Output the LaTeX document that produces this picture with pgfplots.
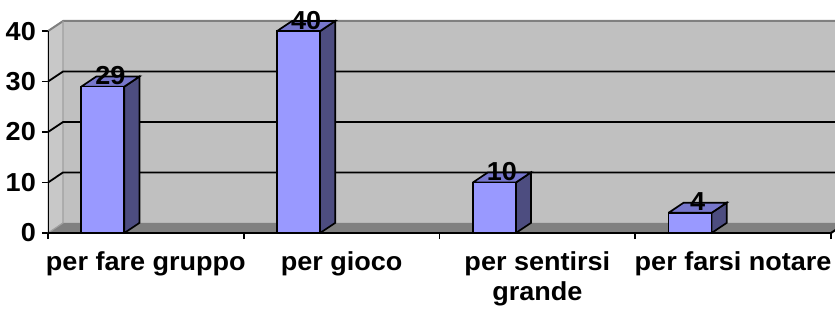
\documentclass[border=0pt]{standalone}
\usepackage{fontspec}
\setmainfont{Liberation Sans}[FakeStretch=1.04]
\usepackage{pgfplots}
\usepackage{pgfplotstable}
\pgfplotsset{compat=1.18}
\definecolor{wall}{RGB}{192,192,192}
\definecolor{sidewall}{RGB}{200,200,200}
\definecolor{floorc}{RGB}{128,128,128}
\definecolor{edgegray}{RGB}{128,128,128}
\definecolor{barfront}{RGB}{153,153,255}
\definecolor{barside}{RGB}{77,77,128}
\definecolor{bartop}{RGB}{119,119,204}
\pgfplotstableread{
x v
0.28 29
1.28 40
2.28 10
3.28 4
}\bardata
\newcommand{\chartfont}{\bfseries\fontsize{26}{30}\selectfont}
\begin{document}
\begin{tikzpicture}
\useasboundingbox (-48pt,-76pt) rectangle (787pt,233pt);
\begin{axis}[
  scale only axis, width=787pt, height=217.06pt,
  xmin=0, xmax=4.0204, ymin=0, ymax=43,
  axis line style={draw=none},
  tick pos=left, tick align=outside,
  major tick length=6pt,
  tick style={black, line width=1.6pt},
  /pgf/number format/assume math mode=true,
  ytick={0,10,20,30,40},
  xtick={0,1,2,3,4}, xticklabels={,,,,},
  extra x ticks={0.5,1.5,2.5,3.5},
  extra x tick labels={per fare gruppo,per gioco,{per sentirsi\\grande},per farsi notare},
  extra x tick style={major tick length=0pt},
  ticklabel style={font=\chartfont, inner sep=0pt},
  xticklabel style={align=center, anchor=north, yshift=-18pt},
  yticklabel style={anchor=east, xshift=-6pt},
]
% back wall
\addplot[fill=wall, draw=none] coordinates {(0.077,2) (4.077,2) (4.077,42) (0.077,42) (0.077,2)};
% left side wall
\addplot[fill=sidewall, draw=none] coordinates {(0,0) (0.077,2) (0.077,42) (0,40) (0,0)};
% floor
\addplot[fill=floorc, draw=none] coordinates {(0,0) (4,0) (4.077,2) (0.077,2) (0,0)};
% wall edges
\addplot[edgegray, line width=2pt] coordinates {(0,40) (0.077,42) (4.1,42)};
\addplot[color={rgb,255:red,160;green,160;blue,160}, line width=1.2pt] coordinates {(0.077,42) (0.077,2) (0,0)};
% gridlines
\addplot[black, line width=1.8pt] coordinates {(0,10) (0.077,12) (4.1,12)};
\addplot[black, line width=1.8pt] coordinates {(0,20) (0.077,22) (4.1,22)};
\addplot[black, line width=1.8pt] coordinates {(0,30) (0.077,32) (4.1,32)};
% bar sides
\addplot[fill=barside, draw=black, line width=1.7pt] coordinates {(0.39,0) (0.467,2) (0.467,31) (0.39,29) (0.39,0)};
\addplot[fill=barside, draw=black, line width=1.7pt] coordinates {(1.39,0) (1.467,2) (1.467,42) (1.39,40) (1.39,0)};
\addplot[fill=barside, draw=black, line width=1.7pt] coordinates {(2.39,0) (2.467,2) (2.467,12) (2.39,10) (2.39,0)};
\addplot[fill=barside, draw=black, line width=1.7pt] coordinates {(3.39,0) (3.467,2) (3.467,6) (3.39,4) (3.39,0)};
% bar tops
\addplot[fill=bartop, draw=black, line width=1.7pt] coordinates {(0.17,29) (0.39,29) (0.467,31) (0.247,31) (0.17,29)};
\addplot[fill=bartop, draw=black, line width=1.7pt] coordinates {(1.17,40) (1.39,40) (1.467,42) (1.247,42) (1.17,40)};
\addplot[fill=bartop, draw=black, line width=1.7pt] coordinates {(2.17,10) (2.39,10) (2.467,12) (2.247,12) (2.17,10)};
\addplot[fill=bartop, draw=black, line width=1.7pt] coordinates {(3.17,4) (3.39,4) (3.467,6) (3.247,6) (3.17,4)};
% bar fronts with labels
\addplot[ybar, bar width=0.22, fill=barfront, draw=black, line width=1.7pt,
  nodes near coords,
  nodes near coords style={font=\chartfont, anchor=center, inner sep=0pt, xshift=7.5pt, yshift=11pt}]
  table[x=x, y=v] {\bardata};
% front axis lines
\addplot[black, line width=2pt] coordinates {(0,40) (0,0) (4,0) (4.077,2)};
\end{axis}
\end{tikzpicture}
\end{document}
